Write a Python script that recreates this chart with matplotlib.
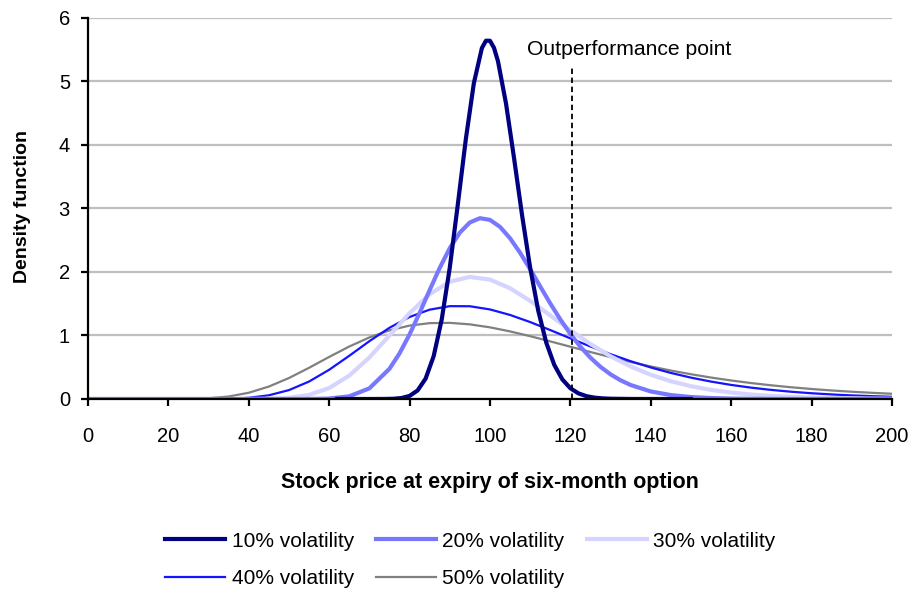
import matplotlib
matplotlib.use("Agg")
import matplotlib.pyplot as plt

# stock price grid and density (%)
x_coarse = [0, 20, 25, 30, 35, 40, 45, 50, 55, 60, 65, 70, 75, 80, 85, 90, 95, 100,
            105, 110, 115, 120, 125, 130, 135, 140, 145, 150, 155, 160, 165, 170,
            175, 180, 185, 190, 195, 200]
vol30 = [0, 0, 0, 0, 0.00003, 0.0004, 0.0035, 0.0181, 0.0645, 0.1726, 0.368, 0.6537,
         0.9997, 1.3521, 1.6499, 1.8469, 1.9225, 1.8806, 1.7443, 1.5455, 1.3163,
         1.0834, 0.8654, 0.6731, 0.5121, 0.3818, 0.2796, 0.2017, 0.1435, 0.101,
         0.0702, 0.0485, 0.0331, 0.0225, 0.0152, 0.0102, 0.0068, 0.0045]
vol40 = [0, 0, 0.00003, 0.0006, 0.0041, 0.0185, 0.0583, 0.14, 0.2747, 0.4603, 0.6803,
         0.91, 1.1211, 1.2917, 1.4069, 1.462, 1.4605, 1.4105, 1.3235, 1.2115, 1.0855,
         0.9549, 0.8267, 0.7056, 0.5951, 0.4965, 0.4104, 0.3365, 0.2739, 0.2216,
         0.1783, 0.1428, 0.1138, 0.0904, 0.0716, 0.0565, 0.0446, 0.035]
vol50 = [0, 0.0002, 0.0021, 0.0114, 0.0393, 0.0982, 0.1958, 0.3302, 0.4912, 0.6624,
         0.8263, 0.9691, 1.0806, 1.1559, 1.1946, 1.1992, 1.1753, 1.1284, 1.0645,
         0.9892, 0.9075, 0.8233, 0.7398, 0.6591, 0.583, 0.5125, 0.4479, 0.3897,
         0.3376, 0.2915, 0.2508, 0.2153, 0.1842, 0.1574, 0.1342, 0.1143, 0.0972, 0.0825]

x_vol20 = [0, 50, 55, 60, 65, 70, 75, 77.5, 80, 82.5, 85, 87.5, 90, 92.5, 95, 97.5,
           100, 102.5, 105, 107.5, 110, 112.5, 115, 117.5, 120, 122.5, 125, 127.5,
           130, 132.5, 135, 140, 145, 150, 155, 160, 165, 170, 175, 180, 190, 200]
vol20 = [0, 0, 0.0007, 0.0069, 0.0419, 0.1676, 0.4751, 0.7174, 1.0163, 1.3558, 1.7149,
         2.0643, 2.3743, 2.6198, 2.7802, 2.8473, 2.821, 2.7107, 2.5314, 2.3024, 2.0437,
         1.7729, 1.5052, 1.253, 1.0242, 0.8223, 0.6504, 0.5058, 0.388, 0.294, 0.22,
         0.1188, 0.0616, 0.0308, 0.0149, 0.007, 0.0032, 0.0015, 0.0006, 0.0003, 0, 0]

x_vol10 = [62, 70, 74, 76, 78, 80, 82, 84, 86, 88, 90, 92, 94, 96, 98, 99, 100, 101,
           102, 104, 106, 108, 110, 112, 114, 116, 118, 120, 122, 124, 126, 128, 130,
           135, 140, 150]
vol10 = [0, 0, 0.0009, 0.004, 0.0151, 0.0485, 0.1341, 0.3214, 0.6745, 1.2509, 2.0657,
         3.0603, 4.0928, 4.9751, 5.527, 5.642, 5.642, 5.531, 5.319, 4.6514, 3.7903,
         2.8894, 2.0681, 1.3944, 0.8889, 0.5375, 0.309, 0.1695, 0.0887, 0.0445, 0.0214,
         0.0099, 0.0044, 0.0005, 0, 0]

outperf_x = 120.5
outperf_top = 5.26

plt.rcParams['font.family'] = ['Liberation Sans', 'DejaVu Sans']

fig = plt.figure(figsize=(9.22, 5.94), dpi=100)
ax = fig.add_axes([0.0954, 0.3283, 0.872, 0.6414])

ax.plot(x_coarse, vol50, color="#808080", lw=1.6, label="50% volatility", zorder=3)
ax.plot(x_coarse, vol40, color="#1414ff", lw=1.6, label="40% volatility", zorder=4)
ax.plot(x_coarse, vol30, color="#d4d4ff", lw=3.0, label="30% volatility", zorder=5)
ax.plot(x_vol20, vol20, color="#7878ff", lw=3.0, label="20% volatility", zorder=6)
ax.plot(x_vol10, vol10, color="#000080", lw=3.0, label="10% volatility", zorder=7)

ax.plot([outperf_x, outperf_x], [0, outperf_top], color="black", lw=1.3,
        ls=(0, (3, 2)), zorder=8)
ax.text(109.3, 5.51, "Outperformance point", fontsize=15.2, va="center", ha="left")

ax.set_xlim(0, 200)
ax.set_ylim(0, 6)
ax.set_xticks(range(0, 201, 20))
ax.set_yticks(range(0, 7))
ax.yaxis.grid(True, color="#bfbfbf", lw=1.6)
ax.set_axisbelow(True)
for s in ["top", "right"]:
    ax.spines[s].set_visible(False)
for s in ["left", "bottom"]:
    ax.spines[s].set_linewidth(1.6)
    ax.spines[s].set_zorder(9)
ax.tick_params(length=5, width=1.6, labelsize=14.5)
ax.tick_params(axis="x", pad=15)
ax.tick_params(axis="y", pad=8)

ax.set_xlabel("Stock price at expiry of six-month option", fontsize=15.5,
              fontweight="bold", va="center")
ax.xaxis.set_label_coords(0.5, -0.2205)
ax.set_ylabel("Density function", fontsize=14, fontweight="bold", va="center")
ax.yaxis.set_label_coords(-0.0808, 0.505)

h, l = ax.get_legend_handles_labels()
lookup = dict(zip(l, h))
order = ["10% volatility", "40% volatility", "20% volatility", "50% volatility",
         "30% volatility"]
fig.legend([lookup[k] for k in order], order, ncol=3, loc="center",
           bbox_to_anchor=(0.51, 0.0572), frameon=False, fontsize=15,
           handlelength=2.9, handletextpad=0.3, columnspacing=1.05,
           labelspacing=0.9, borderpad=0)

fig.savefig("out.png", dpi=100)
